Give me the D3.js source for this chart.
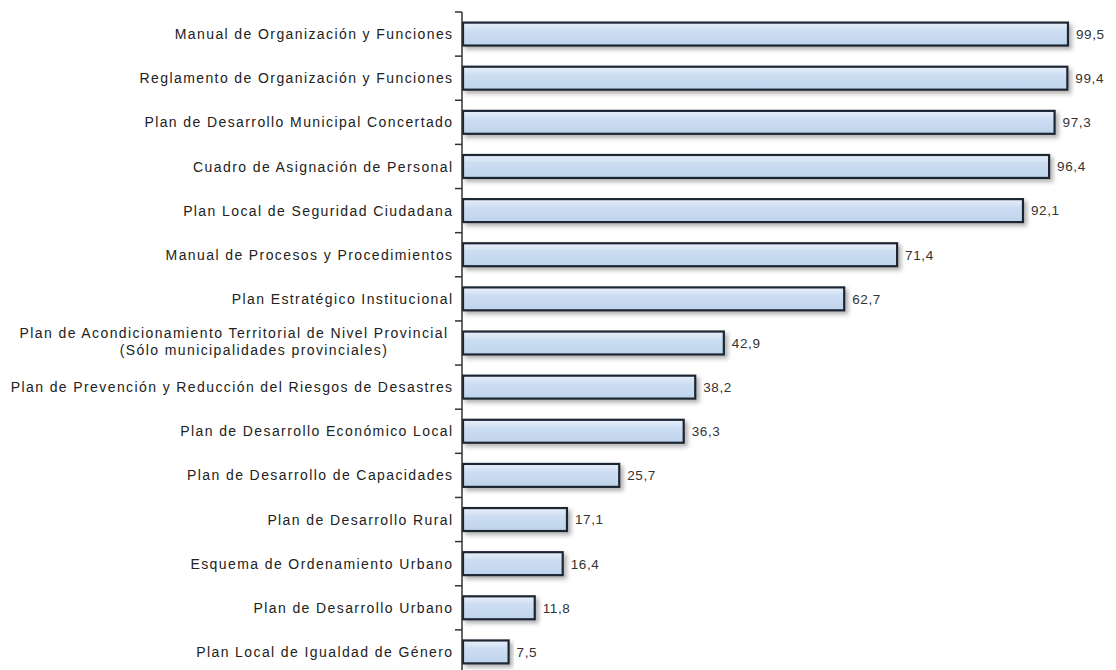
<!DOCTYPE html>
<html>
<head>
<meta charset="utf-8">
<script src="https://cdn.jsdelivr.net/npm/d3@7"></script>
<style>
body { margin: 0; background: #fff; }
svg { font-family: "Liberation Sans", Arial, sans-serif; }
</style>
</head>
<body>
<svg id="chart" width="1116" height="670"></svg>
<script>
// instrumentos de gestion, en orden del grafico
var categories = [
  "Manual de Organización y Funciones",
  "Reglamento de Organización y Funciones",
  "Plan de Desarrollo Municipal Concertado",
  "Cuadro de Asignación de Personal",
  "Plan Local de Seguridad Ciudadana",
  "Manual de Procesos y Procedimientos",
  "Plan Estratégico Institucional",
  "Plan de Acondicionamiento Territorial de Nivel Provincial|(Sólo municipalidades provinciales)",
  "Plan de Prevención y Reducción del Riesgos de Desastres",
  "Plan de Desarrollo Económico Local",
  "Plan de Desarrollo de Capacidades",
  "Plan de Desarrollo Rural",
  "Esquema de Ordenamiento Urbano",
  "Plan de Desarrollo Urbano",
  "Plan Local de Igualdad de Género"
];
var values = [99.5, 99.4, 97.3, 96.4, 92.1, 71.4, 62.7, 42.9, 38.2, 36.3, 25.7, 17.1, 16.4, 11.8, 7.5];

var svg = d3.select("#chart");

var x = d3.scaleLinear().domain([0, 100]).range([463, 1071]);
var y = d3.scaleBand().domain(categories).range([12, 674]).paddingInner(0.48).paddingOuter(0.24);

var defs = svg.append("defs");
var grad = defs.append("linearGradient").attr("id", "barGrad")
	.attr("x1", 0).attr("y1", 0).attr("x2", 0).attr("y2", 1);
grad.append("stop").attr("offset", "0%").attr("stop-color", "#e9f0f9");
grad.append("stop").attr("offset", "35%").attr("stop-color", "#cddef2");
grad.append("stop").attr("offset", "100%").attr("stop-color", "#bed3ec");
var shadow = defs.append("filter").attr("id", "shadow")
	.attr("x", "-5%").attr("y", "-20%").attr("width", "115%").attr("height", "170%");
shadow.append("feDropShadow").attr("dx", 3).attr("dy", 3).attr("stdDeviation", 2)
	.attr("flood-color", "#555").attr("flood-opacity", 0.45);

// bars
svg.selectAll(".bar")
	.data(values)
	.enter().append("rect")
	.attr("class", "bar")
	.attr("x", x(0))
	.attr("y", function(d, i) { return y(categories[i]); })
	.attr("width", function(d) { return x(d) - x(0); })
	.attr("height", y.bandwidth())
	.style("fill", "url(#barGrad)")
	.style("stroke", "#1c2533")
	.style("stroke-width", 2.2)
	.attr("filter", "url(#shadow)");

// value labels
svg.selectAll(".val")
	.data(values)
	.enter().append("text")
	.attr("x", function(d) { return x(d) + 8; })
	.attr("y", function(d, i) { return y(categories[i]) + y.bandwidth() / 2; })
	.attr("dy", "0.36em")
	.style("font-size", "13.5px")
	.style("letter-spacing", "0.6px")
	.style("fill", "#333")
	.text(function(d) { return d3.format(".1f")(d).replace(".", ","); });

// axis line and ticks between categories
var axis = svg.append("g").style("stroke", "#333").style("stroke-width", 1.5);
axis.append("line").attr("x1", x(0) - 1).attr("x2", x(0) - 1).attr("y1", 12).attr("y2", 670);
var bounds = [12].concat(categories.map(function(c) { return y(c) + y.bandwidth() + y.step() * y.paddingInner() / 2; }));
axis.selectAll(".tick").data(bounds).enter().append("line")
	.attr("x1", x(0) - 8).attr("x2", x(0) - 1)
	.attr("y1", function(d) { return d; }).attr("y2", function(d) { return d; });

// category labels
var labels = svg.append("g").style("font-size", "14px").style("letter-spacing", "1.4px").style("fill", "#222");
categories.forEach(function(c, i) {
	var parts = c.split("|");
	var cy = y(c) + y.bandwidth() / 2;
	if (parts.length === 1) {
		labels.append("text").attr("x", 453.5).attr("y", cy).attr("dy", "0.36em")
			.attr("text-anchor", "end").text(c);
	} else {
		var t1 = labels.append("text").attr("x", 448.5).attr("y", cy - 10).attr("dy", "0.36em")
			.attr("text-anchor", "end").text(parts[0]);
		var w = t1.node().getComputedTextLength();
		labels.append("text").attr("x", 448.5 - w / 2 + 20).attr("y", cy + 7).attr("dy", "0.36em")
			.attr("text-anchor", "middle").text(parts[1]);
	}
});
</script>
</body>
</html>
